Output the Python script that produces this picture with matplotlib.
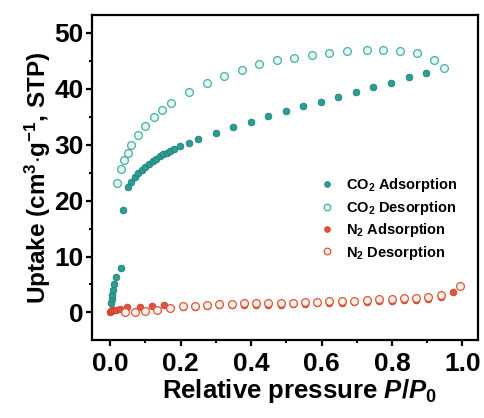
import matplotlib
matplotlib.use("Agg")
import matplotlib.pyplot as plt
from matplotlib.ticker import MultipleLocator

plt.rcParams["font.family"] = "Liberation Sans"
plt.rcParams["font.weight"] = "bold"
plt.rcParams["mathtext.fontset"] = "custom"
plt.rcParams["mathtext.rm"] = "Liberation Sans:bold"
plt.rcParams["mathtext.it"] = "Liberation Sans:bold:italic"
plt.rcParams["mathtext.bf"] = "Liberation Sans:bold"

# -----------------------------
# Data (read off the isotherm)
# -----------------------------
co2_ads_x = [0.002, 0.004, 0.006, 0.008, 0.011, 0.017, 0.03, 0.037,
             0.05, 0.06, 0.07, 0.08, 0.09, 0.10, 0.11, 0.12, 0.13, 0.14,
             0.15, 0.16, 0.17, 0.18, 0.198, 0.224, 0.25, 0.30, 0.35, 0.40,
             0.449, 0.498, 0.548, 0.598, 0.648, 0.698, 0.747, 0.797, 0.848, 0.898]
co2_ads_y = [1.6, 2.4, 3.2, 4.0, 5.0, 6.4, 8.0, 18.4,
             22.4, 23.4, 24.2, 24.9, 25.5, 26.1, 26.6, 27.1, 27.5, 27.9,
             28.3, 28.6, 28.9, 29.2, 29.7, 30.3, 31.0, 32.1, 33.1, 34.1,
             35.1, 36.0, 36.9, 37.7, 38.6, 39.5, 40.3, 41.1, 42.1, 42.9]

co2_des_x = [0.02, 0.03, 0.039, 0.049, 0.059, 0.08, 0.10, 0.124, 0.148, 0.172,
             0.224, 0.274, 0.323, 0.373, 0.423, 0.473, 0.523, 0.572, 0.622,
             0.672, 0.728, 0.774, 0.823, 0.872, 0.92, 0.948]
co2_des_y = [23.2, 25.6, 27.2, 28.6, 29.9, 31.8, 33.3, 35.0, 36.3, 37.5,
             39.4, 41.1, 42.3, 43.4, 44.4, 45.1, 45.6, 46.1, 46.5,
             46.8, 46.9, 46.9, 46.7, 46.4, 45.2, 43.7]

n2_ads_x = [0.0, 0.003, 0.006, 0.01, 0.015, 0.028, 0.048, 0.084, 0.118, 0.153,
            0.207, 0.24, 0.274, 0.309, 0.345, 0.38, 0.414, 0.449, 0.484, 0.518,
            0.553, 0.588, 0.622, 0.657, 0.692, 0.728, 0.764, 0.799, 0.834,
            0.868, 0.903, 0.939, 0.973]
n2_ads_y = [0.15, 0.25, 0.35, 0.45, 0.5, 0.65, 0.95, 1.05, 1.15, 1.25,
            0.9, 1.0, 1.15, 1.25, 1.3, 1.35, 1.4, 1.4, 1.4, 1.45,
            1.55, 1.6, 1.7, 1.7, 1.8, 1.95, 2.1, 2.1, 2.2,
            2.3, 2.45, 2.85, 3.6]

n2_des_x = [0.042, 0.07, 0.10, 0.134, 0.17, 0.207, 0.24, 0.274, 0.309, 0.345,
            0.38, 0.414, 0.449, 0.484, 0.518, 0.553, 0.588, 0.622, 0.657,
            0.692, 0.728, 0.764, 0.799, 0.834, 0.868, 0.903, 0.939, 0.993]
n2_des_y = [0.0, 0.07, 0.3, 0.48, 0.79, 1.07, 1.2, 1.38, 1.5, 1.56,
            1.61, 1.68, 1.68, 1.68, 1.68, 1.79, 1.86, 1.97, 1.97,
            2.09, 2.27, 2.4, 2.4, 2.5, 2.58, 2.75, 3.16, 4.8]

# -----------------------------
# Plot
# -----------------------------
fig = plt.figure(figsize=(4.84, 4.18), dpi=100)
ax = fig.add_axes([0.190, 0.187, 0.798, 0.777])

ms = 4.8
ax.plot(co2_ads_x, co2_ads_y, "o", ms=ms, color="#2b9d94", mec="#1f7f78", mew=0.6,
        label="CO$_2$ Adsorption", zorder=3)
ax.plot(co2_des_x, co2_des_y, "o", ms=ms + 0.8, mfc="#e4f6f4", mec="#4aaea4", mew=0.9,
        label="CO$_2$ Desorption", zorder=3)
ax.plot(n2_ads_x, n2_ads_y, "o", ms=ms, color="#e0533b", mec="#c9422c", mew=0.6,
        label="N$_2$ Adsorption", zorder=3)
ax.plot(n2_des_x, n2_des_y, "o", ms=ms + 0.8, mfc="#fdf1e4", mec="#d9553f", mew=0.9,
        label="N$_2$ Desorption", zorder=4)

ax.set_xlim(-0.052, 1.045)
ax.set_ylim(-4.9, 53.2)
ax.xaxis.set_major_locator(MultipleLocator(0.2))
ax.xaxis.set_minor_locator(MultipleLocator(0.1))
ax.yaxis.set_major_locator(MultipleLocator(10))
ax.yaxis.set_minor_locator(MultipleLocator(5))
ax.set_xticks([0.0, 0.2, 0.4, 0.6, 0.8, 1.0], ["0.0", "0.2", "0.4", "0.6", "0.8", "1.0"])

for s in ax.spines.values():
    s.set_linewidth(1.6)
ax.tick_params(which="major", direction="out", length=4, width=1.6, labelsize=19)
ax.tick_params(axis="x", which="major", pad=4.5)
ax.tick_params(axis="y", which="major", pad=2)
ax.tick_params(which="minor", direction="out", length=2.5, width=1.4)

ax.set_xlabel("Relative pressure $P$/$P_0$", fontsize=18.5, fontweight="bold", labelpad=1)
ax.xaxis.set_label_coords(0.536, -0.115)
ax.set_ylabel("Uptake (cm$^3$$\\cdot$g$^{-1}$, STP)", fontsize=17.5, fontweight="bold", labelpad=1)

ax.legend(loc="center left", bbox_to_anchor=(0.575, 0.372), frameon=False, fontsize=10.5,
          handletextpad=0.8, labelspacing=0.3, handlelength=1.0, borderaxespad=0,
          markerscale=0.85)

fig.savefig("out.png", dpi=100)
